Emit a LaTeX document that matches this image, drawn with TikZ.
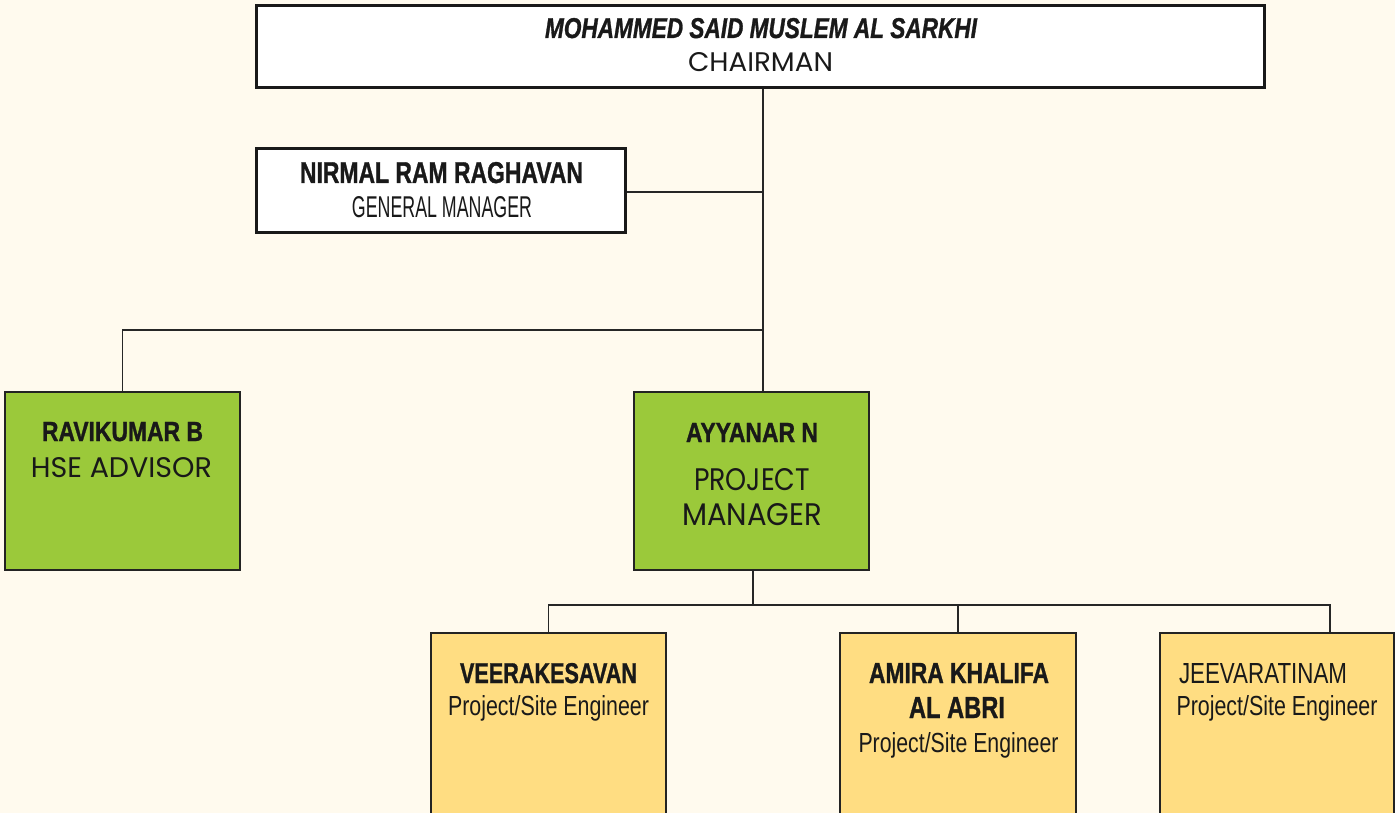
\documentclass[tikz,border=0pt]{standalone}
\usepackage{fontspec}
\setmainfont{Liberation Sans}
\newfontfamily\geo{Poppins}
\newfontfamily\heavy[FakeBold=1.2,ItalicFont=Liberation Sans Bold Italic,ItalicFeatures={FakeBold=1.2}]{Liberation Sans Bold}
\usepackage{graphicx}
\definecolor{bg}{RGB}{255,250,238}
\definecolor{grn}{RGB}{155,201,58}
\definecolor{ylw}{RGB}{255,221,130}
\definecolor{edge}{RGB}{35,35,35}
\newcommand\fitt[3]{\resizebox{#1pt}{#2pt}{#3}}
\begin{document}
\begin{tikzpicture}[x=1pt,y=-1pt,
  box/.style={rectangle,inner sep=0pt,draw=edge},
  whitebox/.style={box,fill=white,line width=2.6pt,draw=black!90},
  greenbox/.style={box,fill=grn,line width=2pt},
  yellowbox/.style={box,fill=ylw,line width=2pt},
  txt/.style={inner sep=0pt,anchor=base,text=black!90},
  link/.style={draw=black!85,line width=1.6pt}]
\useasboundingbox (0,0) rectangle (1395,813);
\clip (0,0) rectangle (1395,813);
\fill[bg] (0,0) rectangle (1395,813);

% boxes
\node[whitebox,minimum width=1008pt,minimum height=82pt] (chair) at (760.5,46.5) {};
\node[whitebox,minimum width=369pt,minimum height=84pt] (gm) at (441,190.5) {};
\node[greenbox,minimum width=235pt,minimum height=178pt] (ravi) at (122.5,481) {};
\node[greenbox,minimum width=235pt,minimum height=178pt] (ayy) at (751.5,481) {};
\node[yellowbox,minimum width=235pt,minimum height=200pt] (veer) at (548.5,733) {};
\node[yellowbox,minimum width=236pt,minimum height=200pt] (amira) at (958,733) {};
\node[yellowbox,minimum width=234pt,minimum height=200pt] (jeev) at (1277,733) {};

% junctions
\coordinate (jA) at (763,192);
\coordinate (jB) at (763,330);
\coordinate (jC) at (753,605);
\coordinate (jD) at (1330,605);

% connectors
\draw[link] (chair.south -| jA) -- (ayy.north -| jA);
\draw[link] (gm.east |- jA) -- (jA);
\draw[link] (jB) -| (ravi.north);
\draw[link] (ayy.south -| jC) -- (jC);
\draw[link] (veer.north) |- (jD) -- (jD |- jeev.north);
\draw[link] (amira.north) -- (amira.north |- jC);

% texts
\node[txt] (chairN) at (761,38) {\fitt{432}{20}{\heavy\itshape MOHAMMED SAID MUSLEM AL SARKHI}};
\node[txt] (chairT) at (760.5,72) {\fitt{145}{19}{\geo CHAIRMAN}};
\node[txt] (gmN) at (441.5,183) {\fitt{283}{21}{\heavy NIRMAL RAM RAGHAVAN}};
\node[txt] (gmT) at (442,218) {\fitt{180}{21}{GENERAL MANAGER}};
\node[txt] (raviN) at (122.5,441) {\fitt{161}{19}{\heavy RAVIKUMAR B}};
\node[txt] (raviT) at (121.5,477) {\fitt{181}{20}{\geo HSE ADVISOR}};
\node[txt] (ayyN) at (752,442) {\fitt{132}{19}{\heavy AYYANAR N}};
\node[txt] (ayyT1) at (752,490) {\fitt{116}{22}{\geo PROJECT}};
\node[txt] (ayyT2) at (752,525) {\fitt{140}{22}{\geo MANAGER}};
\node[txt] (veerN) at (548.5,683) {\fitt{177}{20}{\heavy VEERAKESAVAN}};
\node[txt] (veerT) at (548.5,715) {\fitt{201}{20}{Project/Site Engineer}};
\node[txt] (amiraN1) at (959,683) {\fitt{180}{20}{\heavy AMIRA KHALIFA}};
\node[txt] (amiraN2) at (957,718) {\fitt{96}{21}{\heavy AL ABRI}};
\node[txt] (amiraT) at (958.5,752) {\fitt{200}{20}{Project/Site Engineer}};
\node[txt] (jeevN) at (1263,683) {\fitt{168}{20}{JEEVARATINAM}};
\node[txt] (jeevT) at (1277,715) {\fitt{201}{20}{Project/Site Engineer}};
\end{tikzpicture}
\end{document}
